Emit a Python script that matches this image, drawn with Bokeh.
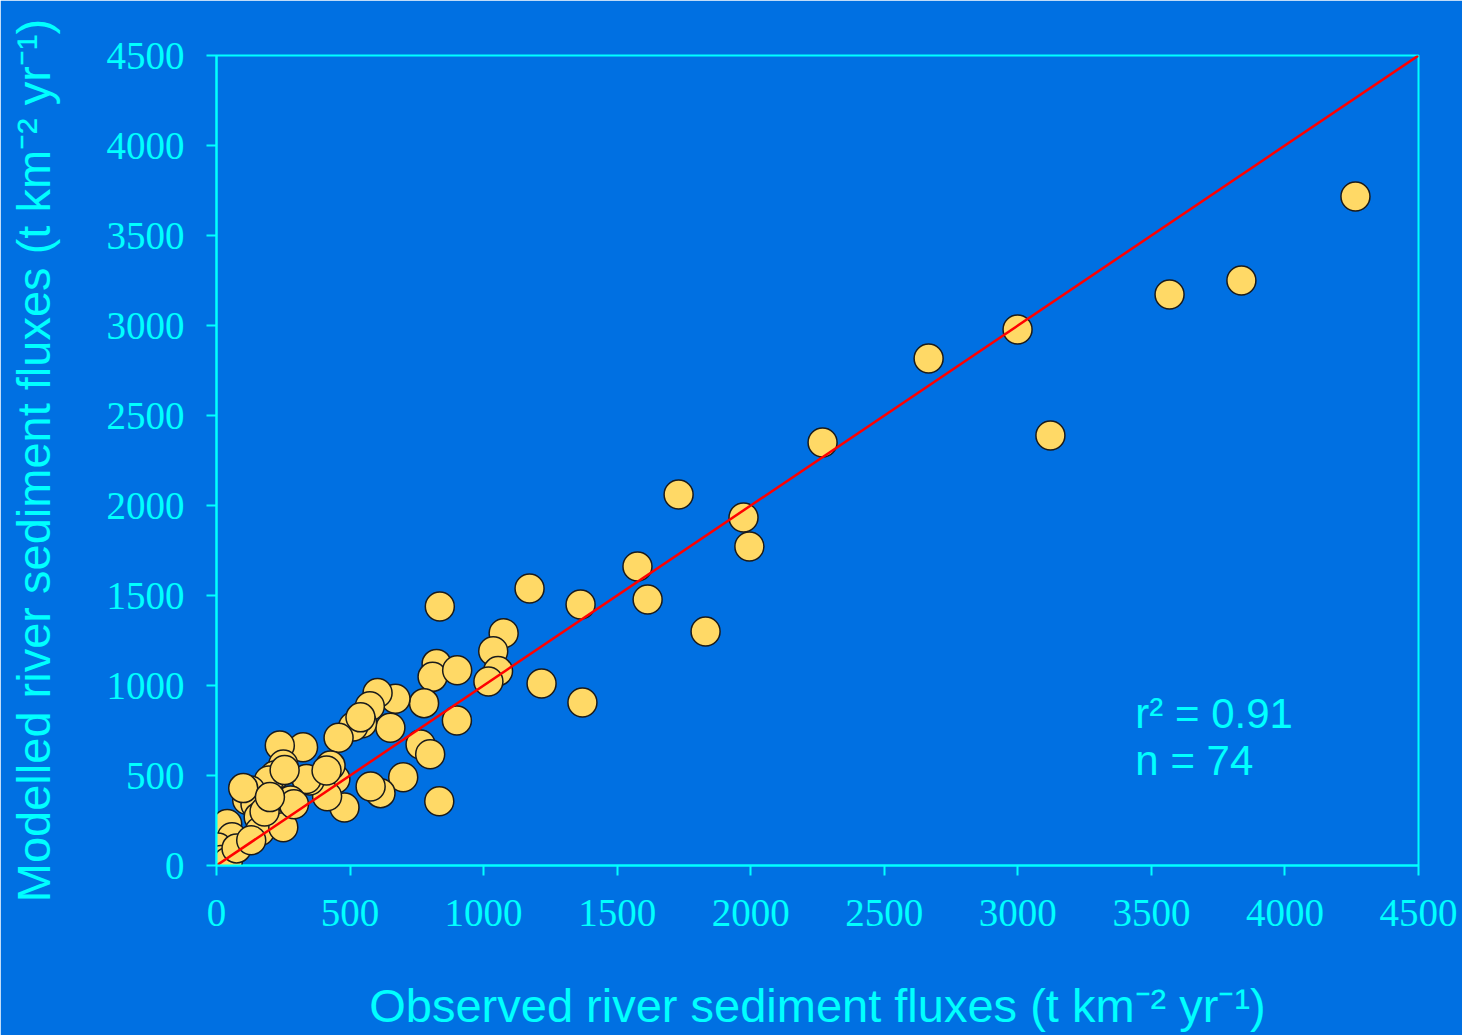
from bokeh.plotting import figure
from bokeh.models import FixedTicker, Label, ColumnDataSource
from bokeh.embed import file_html
from bokeh.resources import INLINE

# Observed vs modelled river sediment fluxes (t km-2 yr-1)
observed = [4264, 3837, 3568, 2999, 3122, 2666, 2269, 1730, 1973, 1995,
            1576, 1614, 1831, 1363, 1370, 1217, 1172, 1075, 1036, 1054,
            1018, 836, 824, 809, 901, 777, 900, 764, 800, 834,
            699, 670, 651, 603, 574, 545, 512, 457, 614, 577,
            479, 445, 427, 414, 349, 337, 324, 237, 250, 218,
            196, 127, 115, 146, 227, 267, 277, 158, 162, 250,
            40, 58, 5, 15, 42, 75, 412, 539, 180, 100,
            290, 200, 130, 255]
modelled = [3717, 3250, 3172, 2978, 2389, 2817, 2350, 2061, 1933, 1772,
            1661, 1478, 1300, 1450, 906, 1011, 1539, 1290, 1190, 1080,
            1022, 1439, 1120, 1048, 1085, 902, 806, 672, 618, 357,
            490, 926, 765, 958, 885, 790, 772, 710, 402, 439,
            322, 481, 555, 385, 472, 481, 657, 667, 561, 500,
            472, 417, 364, 340, 324, 346, 361, 270, 190, 213,
            231, 157, 100, 30, 20, 95, 528, 823, 300, 430,
            340, 380, 140, 530]
one_to_one_x = [0, 4500]
one_to_one_y = [0, 4500]
ticks = [0, 500, 1000, 1500, 2000, 2500, 3000, 3500, 4000, 4500]
stats_lines = ["r\u00b2 = 0.91", "n = 74"]

BG = "#0070E2"
CYAN = "#00FFFF"

p = figure(width=1462, height=1035, output_backend="svg", toolbar_location=None,
           x_range=(0, 4500), y_range=(0, 4500),
           min_border_left=216, min_border_right=44, min_border_top=55, min_border_bottom=170)
p.frame_width = 1202
p.frame_height = 810
p.background_fill_color = BG
p.border_fill_color = BG
p.outline_line_color = CYAN
p.outline_line_width = 2
p.xgrid.visible = False
p.ygrid.visible = False

src = ColumnDataSource(dict(x=observed, y=modelled))
p.scatter("x", "y", source=src, size=29, fill_color="#FFD966", line_color="#1a1a1a", line_width=1.5)
p.line(one_to_one_x, one_to_one_y, line_color="#FF0000", line_width=2.5)

for ax in (p.xaxis[0], p.yaxis[0]):
    ax.ticker = FixedTicker(ticks=ticks)
    ax.axis_line_color = CYAN
    ax.axis_line_width = 2
    ax.major_tick_line_color = CYAN
    ax.major_tick_line_width = 2
    ax.major_tick_out = 10
    ax.major_tick_in = 0
    ax.minor_tick_line_color = None
    ax.major_label_text_color = CYAN
    ax.major_label_text_font = "Liberation Serif"
    ax.major_label_text_font_size = "39px"
    ax.axis_label_text_color = CYAN
    ax.axis_label_text_font = "Liberation Sans"
    ax.axis_label_text_font_size = "47px"
    ax.axis_label_text_font_style = "normal"

p.xaxis.axis_label = "Observed river sediment fluxes (t km\u207b\u00b2 yr\u207b\u00b9)"
p.yaxis.axis_label = "Modelled river sediment fluxes (t km\u207b\u00b2 yr\u207b\u00b9)"
p.xaxis.major_label_standoff = 24
p.yaxis.major_label_standoff = 22
p.xaxis.axis_label_standoff = 50
p.yaxis.axis_label_standoff = 44
p.yaxis.major_label_orientation = "horizontal"

for i, t in enumerate(stats_lines):
    p.add_layout(Label(x=3440, y=845 - i * 262, text=t, text_color=CYAN,
                       text_font="Liberation Sans", text_font_size="42px",
                       text_baseline="alphabetic"))

open("out.html", "w").write(file_html(p, INLINE))
